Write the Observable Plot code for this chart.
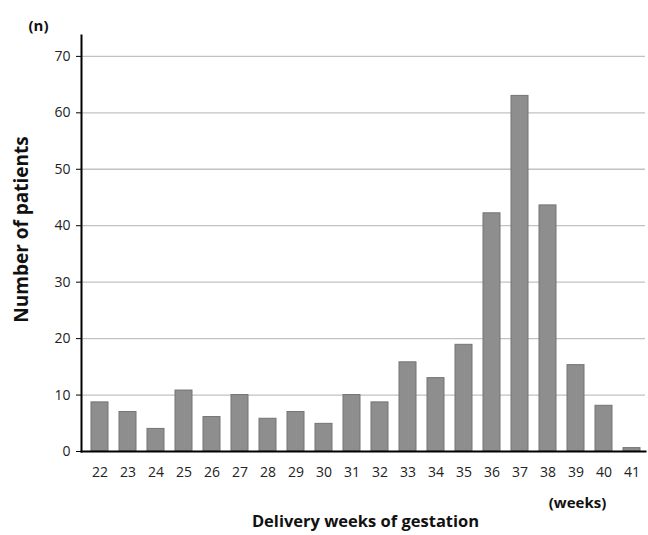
<!DOCTYPE html>
<html>
<head>
<meta charset="utf-8">
<script src="https://cdn.jsdelivr.net/npm/d3@7"></script>
<script src="https://cdn.jsdelivr.net/npm/@observablehq/plot@0.6"></script>
<style>
  html, body { margin: 0; padding: 0; background: #fff; }
  #chart svg { display: block; }
</style>
</head>
<body>
<div id="chart"></div>
<script>
const weeks = ["22","23","24","25","26","27","28","29","30","31","32","33","34","35","36","37","38","39","40","41"];
const patients = [8.7, 7.0, 4.0, 10.8, 6.1, 10.0, 5.8, 7.0, 4.9, 10.0, 8.7, 15.8, 13.0, 18.9, 42.2, 63.0, 43.6, 15.3, 8.1, 0.6];
const yTicks = [0, 10, 20, 30, 40, 50, 60, 70];
const yTitle = "Number of patients";
const xTitle = "Delivery weeks of gestation";
const yUnit = "(n)";
const xUnit = "(weeks)";

const data = weeks.map((w, i) => ({week: w, n: patients[i]}));

const chart = Plot.plot({
  width: 648,
  height: 535,
  marginLeft: 81,
  marginRight: 3,
  marginTop: 35,
  marginBottom: 84,
  style: {fontFamily: "'Open Sans', sans-serif", fontSize: "14px", color: "#222", background: "#fff", overflow: "visible"},
  x: {domain: weeks, range: [81, 650], paddingInner: 0.41, paddingOuter: 0.235, label: null},
  y: {domain: [0, 73.7], label: null},
  marks: [
    Plot.ruleY(yTicks.filter(d => d > 0), {stroke: "#c2c2c2", strokeWidth: 1.3}),
    Plot.barY(data, {x: "week", y: "n", fill: "#8e8e8e", stroke: "#747474", strokeWidth: 1}),
    Plot.frame({anchor: "left", stroke: "#000", strokeWidth: 2}),
    Plot.frame({anchor: "bottom", stroke: "#000", strokeWidth: 2}),
    Plot.axisY({ticks: yTicks, tickSize: 5, tickPadding: 6, stroke: "#000", fill: "#222", label: null, fontSize: 14}),
    Plot.axisX({tickSize: 0, tickPadding: 16, fill: "#222", label: null, fontSize: 14}),
    Plot.text([yTitle], {frameAnchor: "left", rotate: -90, textAnchor: "middle", dx: -60, dy: -14, fontSize: 19, fontWeight: "bold", fill: "#111", text: d => d}),
    Plot.text([xTitle], {frameAnchor: "bottom", textAnchor: "middle", dx: 2, dy: 75, fontSize: 16.5, fontWeight: "bold", fill: "#111", text: d => d}),
    Plot.text([yUnit], {frameAnchor: "top-left", textAnchor: "middle", dx: -43, dy: -15, fontSize: 15, fontWeight: "bold", fill: "#111", text: d => d}),
    Plot.text([xUnit], {frameAnchor: "bottom-right", textAnchor: "middle", dx: -68, dy: 56, fontSize: 15, fontWeight: "bold", fill: "#111", text: d => d})
  ]
});
document.getElementById("chart").appendChild(chart);
</script>
</body>
</html>
